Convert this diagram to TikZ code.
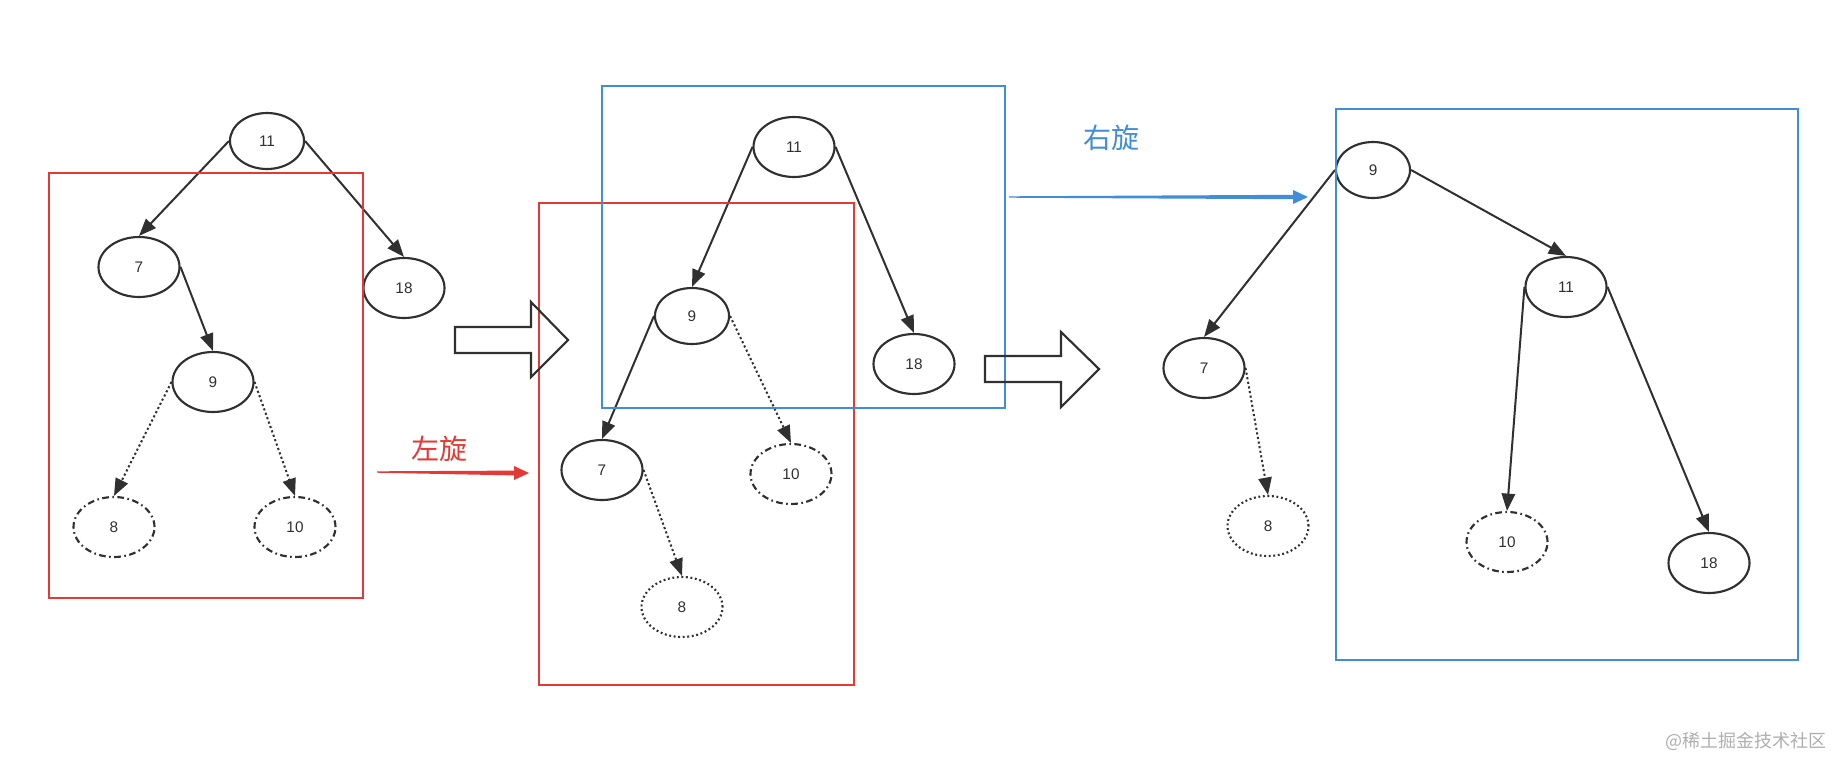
\documentclass[tikz,border=0pt]{standalone}
\usepackage{fontspec}
\setmainfont{Liberation Sans}
\newfontfamily\cjk{Noto Sans CJK SC}
\usetikzlibrary{shapes.geometric,arrows.meta}
\definecolor{rd}{RGB}{229,57,53}
\definecolor{bl}{RGB}{66,142,214}
\definecolor{dk}{RGB}{48,48,48}
\definecolor{wm}{RGB}{175,175,175}
\begin{document}
\begin{tikzpicture}[x=0.75pt,y=-0.75pt,
  tn/.style={ellipse,draw=dk,line width=1.6pt,minimum width=60.75pt,minimum height=45pt,inner sep=0pt,text=dk,font=\fontsize{11.5}{13}\selectfont},
  sm/.style={minimum width=55.5pt,minimum height=42pt},
  dd/.style={dash pattern=on 5pt off 2.6pt on 1.2pt off 2.6pt},
  dt/.style={dash pattern=on 1.4pt off 2pt},
  edge/.style={draw=dk,line width=1.5pt,-{Triangle[length=13pt,width=10pt]}},
  dedge/.style={edge,dash pattern=on 1.6pt off 1.9pt},
  redbox/.style={draw=rd,line width=2.2pt},
  bluebox/.style={draw=bl,line width=2.2pt},
  hollow/.style={draw=dk,line width=1.6pt},
  lbl/.style={font=\cjk\fontsize{21}{24}\selectfont,inner sep=0pt}]
\useasboundingbox (0,0) rectangle (1833,758);
\fill[white] (0,0) rectangle (1833,758);

% left tree
\node[tn,sm] (L11) at (267,141) {11};
\node[tn] (L7) at (139,267) {7};
\node[tn] (L18) at (404,288) {18};
\node[tn] (L9) at (213,382) {9};
\node[tn,dd] (L8) at (114,527) {8};
\node[tn,dd] (L10) at (295,527) {10};
\draw[edge] (L11.west) -- (L7.north);
\draw[edge] (L11.east) -- (L18.north);
\draw[edge] (L7.east) -- (L9.north);
\draw[dedge] (L9.west) -- (L8.north);
\draw[dedge] (L9.east) -- (L10.north);
\draw[redbox] (49,173) rectangle (363,598);

% middle tree
\node[tn] (M11) at (794,147) {11};
\node[tn,sm] (M9) at (692,316) {9};
\node[tn] (M18) at (914,364) {18};
\node[tn] (M7) at (602,470) {7};
\node[tn,dd] (M10) at (791,474) {10};
\node[tn,dt] (M8) at (682,607) {8};
\draw[edge] (M11.west) -- (M9.north);
\draw[edge] (M11.east) -- (M18.north);
\draw[edge] (M9.west) -- (M7.north);
\draw[dedge] (M9.east) -- (M10.north);
\draw[dedge] (M7.east) -- (M8.north);
\draw[redbox] (539,203) rectangle (854,685);
\draw[bluebox] (602,86) rectangle (1005,408);

% right tree
\node[tn,sm] (R9) at (1373,170) {9};
\node[tn] (R7) at (1204,368) {7};
\node[tn] (R11) at (1566,287) {11};
\node[tn,dd] (R10) at (1507,542) {10};
\node[tn] (R18) at (1709,563) {18};
\node[tn,dt] (R8) at (1268,526) {8};
\draw[edge] (R9.west) -- (R7.north);
\draw[edge] (R9.east) -- (R11.north);
\draw[edge] (R11.west) -- (R10.north);
\draw[edge] (R11.east) -- (R18.north);
\draw[dedge] (R7.east) -- (R8.north);
\draw[bluebox] (1336,109) rectangle (1798,660);

% hollow arrows
\draw[hollow] (455,327) -- (531,327) -- (531,302) -- (568,340) -- (531,377) -- (531,353) -- (455,353) -- cycle;
\draw[hollow] (985,356) -- (1061,356) -- (1061,332) -- (1099,369) -- (1061,407) -- (1061,382) -- (985,382) -- cycle;

% rotation arrows
\coordinate (ra) at (377,472);
\coordinate (rb) at (529,473);
\fill[rd] (377,471.3) -- (514,470.6) -- (514,466) -- (rb) -- (514,480) -- (514,475.4) -- (377,472.7) -- cycle;
\coordinate (ba) at (1009,197);
\coordinate (bb) at (1308,197);
\fill[bl] (1009,196.3) -- (1293,194.8) -- (1293,190) -- (bb) -- (1293,204) -- (1293,199.2) -- (1009,197.7) -- cycle;

% labels
\node[lbl,text=rd] (zx) at (439,449) {左旋};
\node[lbl,text=bl] (yx) at (1111,138) {右旋};
\node[font=\cjk\fontsize{13.5}{15}\selectfont,text=wm,inner sep=0pt] (wmk) at (1746,741) {@稀土掘金技术社区};
\end{tikzpicture}
\end{document}
